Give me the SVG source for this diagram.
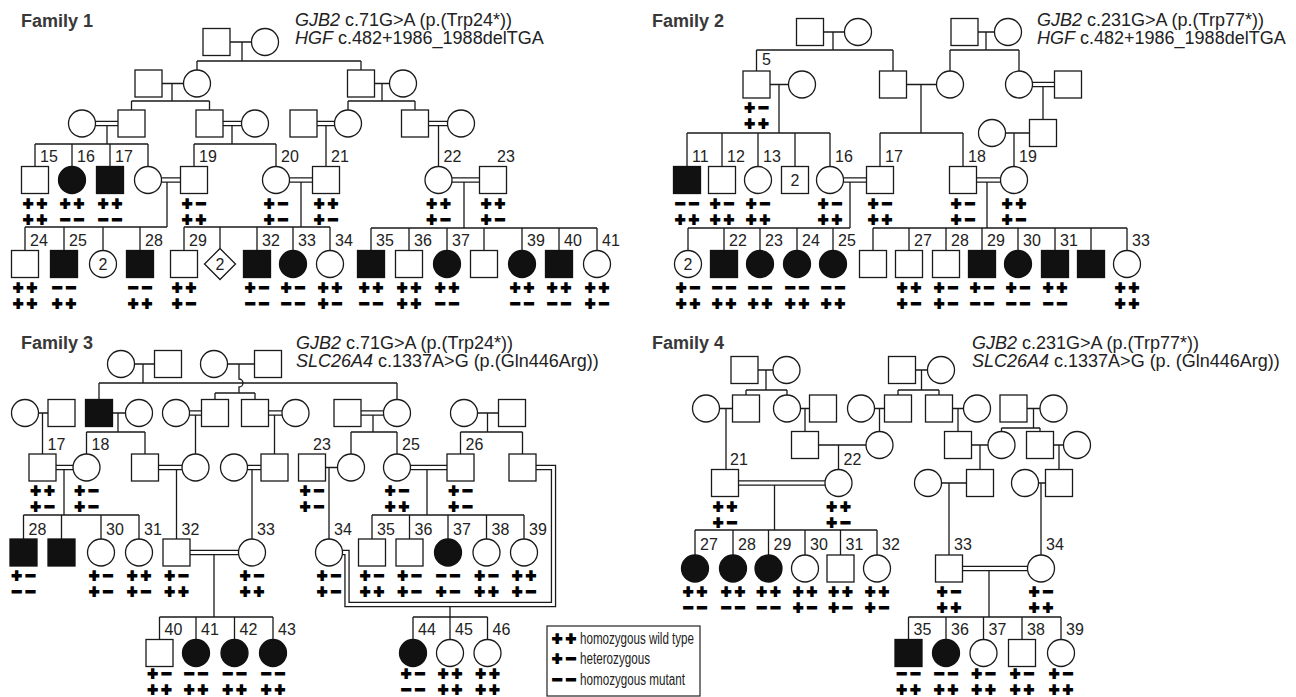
<svg xmlns="http://www.w3.org/2000/svg" width="1296" height="697" viewBox="0 0 1296 697">
<style>
.s{fill:#fff;stroke:#1a1a1a;stroke-width:1.3}
.f{fill:#111;stroke:#111;stroke-width:1.3}
.ln{fill:none;stroke:#1a1a1a;stroke-width:1.3}
.db{fill:none;stroke:#1a1a1a;stroke-width:5.4;stroke-linejoin:miter}
.dw{fill:none;stroke:#fff;stroke-width:2.8;stroke-linejoin:miter}
.lab{font-family:"Liberation Sans",Arial,sans-serif;font-size:16px;fill:#222}
.in{font-family:"Liberation Sans",Arial,sans-serif;font-size:16px;fill:#222;text-anchor:middle}
.gt{font-family:"DejaVu Sans",sans-serif;font-weight:bold;font-size:13.5px;letter-spacing:2.6px;fill:#000;stroke:#000;stroke-width:1.8;stroke-linejoin:miter;text-anchor:middle;transform:translateX(1.3px)}
.ti{font-family:"Liberation Sans",Arial,sans-serif;font-weight:bold;font-size:18px;fill:#383838}
.ge{font-family:"Liberation Sans",Arial,sans-serif;font-size:18px;fill:#222}
.it{font-style:italic}
.lg{font-family:"Liberation Sans",Arial,sans-serif;font-size:16px;fill:#222}
</style>
<rect width="1296" height="697" fill="#fff"/>

<g id="texts">
<text class="ti" x="21" y="27">Family 1</text>
<text class="ti" x="652" y="27">Family 2</text>
<text class="ti" x="21" y="349">Family 3</text>
<text class="ti" x="652" y="349">Family 4</text>
<text class="ge" x="295" y="26"><tspan class="it">GJB2</tspan> c.71G&gt;A (p.(Trp24*))</text>
<text class="ge" x="295" y="44"><tspan class="it">HGF</tspan> c.482+1986_1988delTGA</text>
<text class="ge" x="1037" y="26"><tspan class="it">GJB2</tspan> c.231G&gt;A (p.(Trp77*))</text>
<text class="ge" x="1037" y="44"><tspan class="it">HGF</tspan> c.482+1986_1988delTGA</text>
<text class="ge" x="296" y="349"><tspan class="it">GJB2</tspan> c.71G&gt;A (p.(Trp24*))</text>
<text class="ge" x="296" y="367"><tspan class="it">SLC26A4</tspan> c.1337A&gt;G (p.(Gln446Arg))</text>
<text class="ge" x="972" y="349"><tspan class="it">GJB2</tspan> c.231G&gt;A (p.(Trp77*))</text>
<text class="ge" x="972" y="367"><tspan class="it">SLC26A4</tspan> c.1337A&gt;G (p. (Gln446Arg))</text>
</g>

<g id="connectors">
<path class="ln" d="M230,42H251.5 M242,42V61 M197,61H361 M197,61V70 M361,61V70
M162,83.5H183.5 M172,83.5V101 M131.5,101H209.5 M131.5,101V110 M209.5,101V110
M374.5,83.5H389.5 M382,83.5V101 M348,101H415 M348,101V110 M415,101V110
M107,123.5V144 M35,144H148 M35,144V166.5 M72,144V166.5 M110,144V166.5 M148,144V166.5
M232,123.5V144 M194,144H276 M194,144V166.5 M276,144V166.5
M326,123.5V166.5 M438.5,123.5V166.5
M167,180V227 M25,227H167 M25,227V250.5 M64,227V250.5 M103,227V250.5 M140,227V250.5
M301,180V227 M184,227H330 M184,227V250.5 M220,227V248.5 M257,227V250.5 M293,227V250.5 M330,227V250.5
M464,180V228 M371,228H597 M371,228V250.5 M409,228V250.5 M447,228V250.5 M484,228V250.5 M522,228V250.5 M559,228V250.5 M597,228V250.5"/>
<path class="ln" d="M823.5,32H844.5 M833,32V50 M756.5,50H893 M756.5,50V71 M893,50V71
M978,32H994.5 M986,32V50 M950,50H1019 M950,50V71 M1019,50V71
M770,84.5H788.5 M779,84.5V133 M906.5,84.5H936.5 M921,84.5V133
M1043,84.5V119.5 M1005.5,133H1029.5 M1014,133V166.5
M687,133H830 M687,133V166.5 M722,133V166.5 M758,133V166.5 M795,133V166.5 M830,133V166.5
M880,133H963 M880,133V166.5 M963,133V166.5
M850,180V228 M987,180V228
M688,228H850 M688,228V250.5 M724,228V250.5 M760,228V250.5 M797,228V250.5 M833,228V250.5
M873,228H1127 M873,228V250.5 M909,228V250.5 M946,228V250.5 M982,228V250.5 M1018,228V250.5 M1055,228V250.5 M1091,228V250.5 M1127,228V250.5"/>
<path class="ln" d="M134.5,364H154.5 M143,364V383 M99,383H397 M99,383V399.5 M397,383V399.5
M227.5,364H254.5 M239,364V379 A4,4 0 0 1 239,387 V393 M215,393H255 M215,393V399.5 M255,393V399.5
M38.5,413H48 M42.5,413V454
M112.5,413H125.5 M118,413V432 M86.5,432H145 M86.5,432V454 M145,432V454
M195.5,413V454 M274.5,413V454
M373,413V432 M351,432H397 M351,432V454 M397,432V454
M477.5,413H498.5 M487.5,413V432 M460.5,432H522.5 M460.5,432V454 M522.5,432V454
M64,467.5V515 M23.5,515H139 M23.5,515V539 M61.5,515V539 M101,515V539 M139,515V539
M176.5,467.5V539 M252,467.5V539
M325.5,467.5H337.5 M329,467.5V539
M427,467.5V515 M372,515H524 M372,515V539 M409.5,515V539 M448,515V539 M486.5,515V539 M524,515V539
M214,552.5V617 M159.5,617H273 M159.5,617V639.5 M196,617V639.5 M234.5,617V639.5 M273,617V639.5
M450,604.5V617 M413,617H487.5 M413,617V639.5 M450,617V639.5 M487.5,617V639.5"/>
<path class="ln" d="M758,370H773 M766,370V390 M746,390H787 M746,390V395 M787,390V395
M915.5,370H927.5 M921.5,370V390 M898,390H939 M898,390V395 M939,390V395
M719.5,408.5H732.5 M726,408.5V469.5
M800.5,408.5H809.5 M805,408.5V431.5
M874.5,408.5H884.5 M879.5,408.5V431.5
M952.5,408.5H963.5 M958,408.5V431.5
M1027,408.5H1040 M1033.5,408.5V428 M1001.5,428H1040 M1001.5,428V431.5 M1040,428V431.5
M818.5,445H866 M838.5,445V469.5
M971.5,445H988 M980,445V469.5
M1053.5,445H1063.5 M1059,445V469.5
M774.5,483V530 M695,530H877 M695,530V555 M733,530V555 M768.5,530V555 M805,530V555 M840.5,530V555 M877,530V555
M941.5,483H966.5 M949,483V555
M1038.5,483H1045.5 M1041,483V555
M989,568.5V617 M908.5,617H1061 M908.5,617V639.5 M946,617V639.5 M983.5,617V639.5 M1022,617V639.5 M1061,617V639.5"/>
<path class="db" d="M95.5,123.5H118 M223,123.5H241.5 M317,123.5H334.5 M428.5,123.5H447.5 M161.5,180H180.5 M289.5,180H312.5 M452,180H479.5
M1032.5,84.5H1054.5 M843.5,180H866.5 M976.5,180H1000.5
M189.5,413H201.5 M268.5,413H282 M361,413H383.5 M56,467.5H73 M158.5,467.5H182 M247.5,467.5H261 M410.5,467.5H447 M190,552.5H238.5
M536,467.5H553.5V604.5H347V552.5H342.5
M738.5,483H825 M962.5,568.5H1027.5"/>
<path class="dw" d="M95.5,123.5H118 M223,123.5H241.5 M317,123.5H334.5 M428.5,123.5H447.5 M161.5,180H180.5 M289.5,180H312.5 M452,180H479.5
M1032.5,84.5H1054.5 M843.5,180H866.5 M976.5,180H1000.5
M189.5,413H201.5 M268.5,413H282 M361,413H383.5 M56,467.5H73 M158.5,467.5H182 M247.5,467.5H261 M410.5,467.5H447 M190,552.5H238.5
M536,467.5H553.5V604.5H347V552.5H342.5
M738.5,483H825 M962.5,568.5H1027.5"/>
</g>

<!-- FAMILY 1 -->
<g id="f1-I1"><rect class="s" x="203" y="28.5" width="27" height="27"/></g>
<g id="f1-I2"><circle class="s" cx="265" cy="42" r="13.5"/></g>
<g id="f1-II1"><rect class="s" x="135" y="70" width="27" height="27"/></g>
<g id="f1-II2"><circle class="s" cx="197" cy="83.5" r="13.5"/></g>
<g id="f1-II3"><rect class="s" x="347.5" y="70" width="27" height="27"/></g>
<g id="f1-II4"><circle class="s" cx="403" cy="83.5" r="13.5"/></g>
<g id="f1-III1"><circle class="s" cx="82" cy="123.5" r="13.5"/></g>
<g id="f1-III2"><rect class="s" x="118" y="110" width="27" height="27"/></g>
<g id="f1-III3"><rect class="s" x="196" y="110" width="27" height="27"/></g>
<g id="f1-III4"><circle class="s" cx="255" cy="123.5" r="13.5"/></g>
<g id="f1-III5"><rect class="s" x="290" y="110" width="27" height="27"/></g>
<g id="f1-III6"><circle class="s" cx="348" cy="123.5" r="13.5"/></g>
<g id="f1-III7"><rect class="s" x="401.5" y="110" width="27" height="27"/></g>
<g id="f1-III8"><circle class="s" cx="461" cy="123.5" r="13.5"/></g>

<g id="f1-15"><rect class="s" x="21.5" y="166.5" width="27" height="27"/><text class="lab" x="40" y="161.5">15</text><text class="gt" x="35" y="207.5">++</text><text class="gt" x="35" y="223.5">++</text></g>
<g id="f1-16"><circle class="f" cx="72" cy="180" r="13.5"/><text class="lab" x="77" y="161.5">16</text><text class="gt" x="72" y="207.5">++</text><text class="gt" x="72" y="223.5">−−</text></g>
<g id="f1-17"><rect class="f" x="96.5" y="166.5" width="27" height="27"/><text class="lab" x="115" y="161.5">17</text><text class="gt" x="110" y="207.5">++</text><text class="gt" x="110" y="223.5">−−</text></g>
<g id="f1-18"><circle class="s" cx="148" cy="180" r="13.5"/></g>
<g id="f1-19"><rect class="s" x="180.5" y="166.5" width="27" height="27"/><text class="lab" x="199" y="161.5">19</text><text class="gt" x="194" y="207.5">+−</text><text class="gt" x="194" y="223.5">++</text></g>
<g id="f1-20"><circle class="s" cx="276" cy="180" r="13.5"/><text class="lab" x="281" y="161.5">20</text><text class="gt" x="276" y="207.5">+−</text><text class="gt" x="276" y="223.5">+−</text></g>
<g id="f1-21"><rect class="s" x="312.5" y="166.5" width="27" height="27"/><text class="lab" x="331" y="161.5">21</text><text class="gt" x="326" y="207.5">++</text><text class="gt" x="326" y="223.5">+−</text></g>
<g id="f1-22"><circle class="s" cx="438.5" cy="180" r="13.5"/><text class="lab" x="443.5" y="161.5">22</text><text class="gt" x="438.5" y="207.5">++</text><text class="gt" x="438.5" y="223.5">+−</text></g>
<g id="f1-23"><rect class="s" x="479.5" y="166.5" width="27" height="27"/><text class="lab" x="497" y="161.5">23</text><text class="gt" x="493" y="207.5">++</text><text class="gt" x="493" y="223.5">+−</text></g>

<g id="f1-24"><rect class="s" x="11.5" y="250.5" width="27" height="27"/><text class="lab" x="30" y="246">24</text><text class="gt" x="25" y="291.5">++</text><text class="gt" x="25" y="307.5">++</text></g>
<g id="f1-25"><rect class="f" x="50.5" y="250.5" width="27" height="27"/><text class="lab" x="69" y="246">25</text><text class="gt" x="64" y="291.5">−−</text><text class="gt" x="64" y="307.5">++</text></g>
<g id="f1-x2"><circle class="s" cx="103" cy="264" r="13.5"/><text class="in" x="103" y="269.5">2</text></g>
<g id="f1-28"><rect class="f" x="126.5" y="250.5" width="27" height="27"/><text class="lab" x="145" y="246">28</text><text class="gt" x="140" y="291.5">−−</text><text class="gt" x="140" y="307.5">++</text></g>
<g id="f1-29"><rect class="s" x="170.5" y="250.5" width="27" height="27"/><text class="lab" x="189" y="246">29</text><text class="gt" x="184" y="291.5">++</text><text class="gt" x="184" y="307.5">+−</text></g>
<g id="f1-d2"><polygon class="s" points="220,248.5 235.5,264 220,279.5 204.5,264"/><text class="in" x="220" y="269.5">2</text></g>
<g id="f1-32"><rect class="f" x="243.5" y="250.5" width="27" height="27"/><text class="lab" x="262" y="246">32</text><text class="gt" x="257" y="291.5">+−</text><text class="gt" x="257" y="307.5">−−</text></g>
<g id="f1-33"><circle class="f" cx="293" cy="264" r="13.5"/><text class="lab" x="298" y="246">33</text><text class="gt" x="293" y="291.5">+−</text><text class="gt" x="293" y="307.5">−−</text></g>
<g id="f1-34"><circle class="s" cx="330" cy="264" r="13.5"/><text class="lab" x="335" y="246">34</text><text class="gt" x="330" y="291.5">++</text><text class="gt" x="330" y="307.5">+−</text></g>
<g id="f1-35"><rect class="f" x="357.5" y="250.5" width="27" height="27"/><text class="lab" x="376" y="246">35</text><text class="gt" x="371" y="291.5">++</text><text class="gt" x="371" y="307.5">−−</text></g>
<g id="f1-36"><rect class="s" x="395.5" y="250.5" width="27" height="27"/><text class="lab" x="414" y="246">36</text><text class="gt" x="409" y="291.5">++</text><text class="gt" x="409" y="307.5">++</text></g>
<g id="f1-37"><circle class="f" cx="447" cy="264" r="13.5"/><text class="lab" x="452" y="246">37</text><text class="gt" x="447" y="291.5">++</text><text class="gt" x="447" y="307.5">−−</text></g>
<g id="f1-38"><rect class="s" x="470.5" y="250.5" width="27" height="27"/></g>
<g id="f1-39"><circle class="f" cx="522" cy="264" r="13.5"/><text class="lab" x="527" y="246">39</text><text class="gt" x="522" y="291.5">++</text><text class="gt" x="522" y="307.5">−−</text></g>
<g id="f1-40"><rect class="f" x="545.5" y="250.5" width="27" height="27"/><text class="lab" x="564" y="246">40</text><text class="gt" x="559" y="291.5">++</text><text class="gt" x="559" y="307.5">−−</text></g>
<g id="f1-41"><circle class="s" cx="597" cy="264" r="13.5"/><text class="lab" x="602" y="246">41</text><text class="gt" x="597" y="291.5">++</text><text class="gt" x="597" y="307.5">+−</text></g>

<!-- FAMILY 2 -->
<g id="f2-I1"><rect class="s" x="796.5" y="18.5" width="27" height="27"/></g>
<g id="f2-I2"><circle class="s" cx="858" cy="32" r="13.5"/></g>
<g id="f2-I3"><rect class="s" x="951" y="18.5" width="27" height="27"/></g>
<g id="f2-I4"><circle class="s" cx="1008" cy="32" r="13.5"/></g>
<g id="f2-5"><rect class="s" x="743" y="71" width="27" height="27"/><text class="lab" x="762" y="65">5</text><text class="gt" x="756.5" y="112">+−</text><text class="gt" x="756.5" y="128">++</text></g>
<g id="f2-II2"><circle class="s" cx="802" cy="84.5" r="13.5"/></g>
<g id="f2-II3"><rect class="s" x="879.5" y="71" width="27" height="27"/></g>
<g id="f2-II4"><circle class="s" cx="950" cy="84.5" r="13.5"/></g>
<g id="f2-II5"><circle class="s" cx="1019" cy="84.5" r="13.5"/></g>
<g id="f2-II6"><rect class="s" x="1054.5" y="71" width="27" height="27"/></g>
<g id="f2-III1"><circle class="s" cx="992" cy="133" r="13.5"/></g>
<g id="f2-III2"><rect class="s" x="1029.5" y="119.5" width="27" height="27"/></g>

<g id="f2-11"><rect class="f" x="673.5" y="166.5" width="27" height="27"/><text class="lab" x="692" y="161.5">11</text><text class="gt" x="687" y="207.5">−−</text><text class="gt" x="687" y="223.5">++</text></g>
<g id="f2-12"><rect class="s" x="708.5" y="166.5" width="27" height="27"/><text class="lab" x="727" y="161.5">12</text><text class="gt" x="722" y="207.5">+−</text><text class="gt" x="722" y="223.5">++</text></g>
<g id="f2-13"><circle class="s" cx="758" cy="180" r="13.5"/><text class="lab" x="763" y="161.5">13</text><text class="gt" x="758" y="207.5">+−</text><text class="gt" x="758" y="223.5">++</text></g>
<g id="f2-s2"><rect class="s" x="781.5" y="166.5" width="27" height="27"/><text class="in" x="795" y="185.5">2</text></g>
<g id="f2-16"><circle class="s" cx="830" cy="180" r="13.5"/><text class="lab" x="835" y="161.5">16</text><text class="gt" x="830" y="207.5">+−</text><text class="gt" x="830" y="223.5">++</text></g>
<g id="f2-17"><rect class="s" x="866.5" y="166.5" width="27" height="27"/><text class="lab" x="885" y="161.5">17</text><text class="gt" x="880" y="207.5">+−</text><text class="gt" x="880" y="223.5">++</text></g>
<g id="f2-18"><rect class="s" x="949.5" y="166.5" width="27" height="27"/><text class="lab" x="968" y="161.5">18</text><text class="gt" x="963" y="207.5">+−</text><text class="gt" x="963" y="223.5">+−</text></g>
<g id="f2-19"><circle class="s" cx="1014" cy="180" r="13.5"/><text class="lab" x="1019" y="161.5">19</text><text class="gt" x="1014" y="207.5">++</text><text class="gt" x="1014" y="223.5">+−</text></g>

<g id="f2-c2"><circle class="s" cx="688" cy="264" r="13.5"/><text class="in" x="688" y="269.5">2</text><text class="gt" x="688" y="291.5">+−</text><text class="gt" x="688" y="307.5">++</text></g>
<g id="f2-22"><rect class="f" x="710.5" y="250.5" width="27" height="27"/><text class="lab" x="729" y="246">22</text><text class="gt" x="724" y="291.5">−−</text><text class="gt" x="724" y="307.5">++</text></g>
<g id="f2-23"><circle class="f" cx="760" cy="264" r="13.5"/><text class="lab" x="765" y="246">23</text><text class="gt" x="760" y="291.5">−−</text><text class="gt" x="760" y="307.5">++</text></g>
<g id="f2-24"><circle class="f" cx="797" cy="264" r="13.5"/><text class="lab" x="802" y="246">24</text><text class="gt" x="797" y="291.5">−−</text><text class="gt" x="797" y="307.5">++</text></g>
<g id="f2-25"><circle class="f" cx="833" cy="264" r="13.5"/><text class="lab" x="838" y="246">25</text><text class="gt" x="833" y="291.5">−−</text><text class="gt" x="833" y="307.5">++</text></g>
<g id="f2-26"><rect class="s" x="859.5" y="250.5" width="27" height="27"/></g>
<g id="f2-27"><rect class="s" x="895.5" y="250.5" width="27" height="27"/><text class="lab" x="914" y="246">27</text><text class="gt" x="909" y="291.5">++</text><text class="gt" x="909" y="307.5">+−</text></g>
<g id="f2-28"><rect class="s" x="932.5" y="250.5" width="27" height="27"/><text class="lab" x="951" y="246">28</text><text class="gt" x="946" y="291.5">+−</text><text class="gt" x="946" y="307.5">+−</text></g>
<g id="f2-29"><rect class="f" x="968.5" y="250.5" width="27" height="27"/><text class="lab" x="987" y="246">29</text><text class="gt" x="982" y="291.5">+−</text><text class="gt" x="982" y="307.5">−−</text></g>
<g id="f2-30"><circle class="f" cx="1018" cy="264" r="13.5"/><text class="lab" x="1023" y="246">30</text><text class="gt" x="1018" y="291.5">+−</text><text class="gt" x="1018" y="307.5">−−</text></g>
<g id="f2-31"><rect class="f" x="1041.5" y="250.5" width="27" height="27"/><text class="lab" x="1060" y="246">31</text><text class="gt" x="1055" y="291.5">++</text><text class="gt" x="1055" y="307.5">−−</text></g>
<g id="f2-32"><rect class="f" x="1077.5" y="250.5" width="27" height="27"/></g>
<g id="f2-33"><circle class="s" cx="1127" cy="264" r="13.5"/><text class="lab" x="1132" y="246">33</text><text class="gt" x="1127" y="291.5">++</text><text class="gt" x="1127" y="307.5">++</text></g>

<!-- FAMILY 3 -->
<g id="f3-I1"><circle class="s" cx="121" cy="364" r="13.5"/></g>
<g id="f3-I2"><rect class="s" x="154.5" y="350.5" width="27" height="27"/></g>
<g id="f3-I3"><circle class="s" cx="214" cy="364" r="13.5"/></g>
<g id="f3-I4"><rect class="s" x="254.5" y="350.5" width="27" height="27"/></g>
<g id="f3-II1"><circle class="s" cx="25" cy="413" r="13.5"/></g>
<g id="f3-II2"><rect class="s" x="48" y="399.5" width="27" height="27"/></g>
<g id="f3-II3"><rect class="f" x="85.5" y="399.5" width="27" height="27"/></g>
<g id="f3-II4"><circle class="s" cx="139" cy="413" r="13.5"/></g>
<g id="f3-II5"><circle class="s" cx="176" cy="413" r="13.5"/></g>
<g id="f3-II6"><rect class="s" x="201.5" y="399.5" width="27" height="27"/></g>
<g id="f3-II7"><rect class="s" x="241.5" y="399.5" width="27" height="27"/></g>
<g id="f3-II8"><circle class="s" cx="295.5" cy="413" r="13.5"/></g>
<g id="f3-II9"><rect class="s" x="334" y="399.5" width="27" height="27"/></g>
<g id="f3-II10"><circle class="s" cx="397" cy="413" r="13.5"/></g>
<g id="f3-II11"><circle class="s" cx="464" cy="413" r="13.5"/></g>
<g id="f3-II12"><rect class="s" x="498.5" y="399.5" width="27" height="27"/></g>

<g id="f3-17"><rect class="s" x="29" y="454" width="27" height="27"/><text class="lab" x="47.5" y="449.5">17</text><text class="gt" x="42.5" y="495">++</text><text class="gt" x="42.5" y="511">+−</text></g>
<g id="f3-18"><circle class="s" cx="86.5" cy="467.5" r="13.5"/><text class="lab" x="91.5" y="449.5">18</text><text class="gt" x="86.5" y="495">+−</text><text class="gt" x="86.5" y="511">+−</text></g>
<g id="f3-III3"><rect class="s" x="131.5" y="454" width="27" height="27"/></g>
<g id="f3-III4"><circle class="s" cx="195.5" cy="467.5" r="13.5"/></g>
<g id="f3-III5"><circle class="s" cx="234" cy="467.5" r="13.5"/></g>
<g id="f3-III6"><rect class="s" x="261" y="454" width="27" height="27"/></g>
<g id="f3-23"><rect class="s" x="298.5" y="454" width="27" height="27"/><text class="lab" x="313" y="449.5">23</text><text class="gt" x="312" y="495">+−</text><text class="gt" x="312" y="511">+−</text></g>
<g id="f3-III8"><circle class="s" cx="351" cy="467.5" r="13.5"/></g>
<g id="f3-25"><circle class="s" cx="397" cy="467.5" r="13.5"/><text class="lab" x="402" y="449.5">25</text><text class="gt" x="397" y="495">+−</text><text class="gt" x="397" y="511">++</text></g>
<g id="f3-26"><rect class="s" x="447" y="454" width="27" height="27"/><text class="lab" x="465.5" y="449.5">26</text><text class="gt" x="460.5" y="495">+−</text><text class="gt" x="460.5" y="511">+−</text></g>
<g id="f3-III11"><rect class="s" x="509" y="454" width="27" height="27"/></g>

<g id="f3-28"><rect class="f" x="10" y="539" width="27" height="27"/><text class="lab" x="28.5" y="534.5">28</text><text class="gt" x="23.5" y="580">+−</text><text class="gt" x="23.5" y="596">−−</text></g>
<g id="f3-29"><rect class="f" x="48" y="539" width="27" height="27"/></g>
<g id="f3-30"><circle class="s" cx="101" cy="552.5" r="13.5"/><text class="lab" x="106" y="534.5">30</text><text class="gt" x="101" y="580">+−</text><text class="gt" x="101" y="596">+−</text></g>
<g id="f3-31"><circle class="s" cx="139" cy="552.5" r="13.5"/><text class="lab" x="144" y="534.5">31</text><text class="gt" x="139" y="580">++</text><text class="gt" x="139" y="596">+−</text></g>
<g id="f3-32"><rect class="s" x="163" y="539" width="27" height="27"/><text class="lab" x="181.5" y="534.5">32</text><text class="gt" x="176.5" y="580">+−</text><text class="gt" x="176.5" y="596">++</text></g>
<g id="f3-33"><circle class="s" cx="252" cy="552.5" r="13.5"/><text class="lab" x="257" y="534.5">33</text><text class="gt" x="252" y="580">+−</text><text class="gt" x="252" y="596">++</text></g>
<g id="f3-34"><circle class="s" cx="329" cy="552.5" r="13.5"/><text class="lab" x="334" y="534.5">34</text><text class="gt" x="329" y="580">+−</text><text class="gt" x="329" y="596">+−</text></g>
<g id="f3-35"><rect class="s" x="358.5" y="539" width="27" height="27"/><text class="lab" x="377" y="534.5">35</text><text class="gt" x="372" y="580">+−</text><text class="gt" x="372" y="596">++</text></g>
<g id="f3-36"><rect class="s" x="396" y="539" width="27" height="27"/><text class="lab" x="414.5" y="534.5">36</text><text class="gt" x="409.5" y="580">+−</text><text class="gt" x="409.5" y="596">+−</text></g>
<g id="f3-37"><circle class="f" cx="448" cy="552.5" r="13.5"/><text class="lab" x="453" y="534.5">37</text><text class="gt" x="448" y="580">−−</text><text class="gt" x="448" y="596">+−</text></g>
<g id="f3-38"><circle class="s" cx="486.5" cy="552.5" r="13.5"/><text class="lab" x="491.5" y="534.5">38</text><text class="gt" x="486.5" y="580">+−</text><text class="gt" x="486.5" y="596">++</text></g>
<g id="f3-39"><circle class="s" cx="524" cy="552.5" r="13.5"/><text class="lab" x="529" y="534.5">39</text><text class="gt" x="524" y="580">++</text><text class="gt" x="524" y="596">+−</text></g>

<g id="f3-40"><rect class="s" x="146" y="639.5" width="27" height="27"/><text class="lab" x="164.5" y="635">40</text><text class="gt" x="159.5" y="677.5">+−</text><text class="gt" x="159.5" y="693.5">++</text></g>
<g id="f3-41"><circle class="f" cx="196" cy="653" r="13.5"/><text class="lab" x="201" y="635">41</text><text class="gt" x="196" y="677.5">−−</text><text class="gt" x="196" y="693.5">++</text></g>
<g id="f3-42"><circle class="f" cx="234.5" cy="653" r="13.5"/><text class="lab" x="239.5" y="635">42</text><text class="gt" x="234.5" y="677.5">−−</text><text class="gt" x="234.5" y="693.5">++</text></g>
<g id="f3-43"><circle class="f" cx="273" cy="653" r="13.5"/><text class="lab" x="278" y="635">43</text><text class="gt" x="273" y="677.5">−−</text><text class="gt" x="273" y="693.5">++</text></g>
<g id="f3-44"><circle class="f" cx="413" cy="653" r="13.5"/><text class="lab" x="418" y="635">44</text><text class="gt" x="413" y="677.5">+−</text><text class="gt" x="413" y="693.5">−−</text></g>
<g id="f3-45"><circle class="s" cx="450" cy="653" r="13.5"/><text class="lab" x="455" y="635">45</text><text class="gt" x="450" y="677.5">++</text><text class="gt" x="450" y="693.5">++</text></g>
<g id="f3-46"><circle class="s" cx="487.5" cy="653" r="13.5"/><text class="lab" x="492.5" y="635">46</text><text class="gt" x="487.5" y="677.5">++</text><text class="gt" x="487.5" y="693.5">++</text></g>

<!-- FAMILY 4 -->
<g id="f4-I1"><rect class="s" x="731" y="356.5" width="27" height="27"/></g>
<g id="f4-I2"><circle class="s" cx="786.5" cy="370" r="13.5"/></g>
<g id="f4-I3"><rect class="s" x="888.5" y="356.5" width="27" height="27"/></g>
<g id="f4-I4"><circle class="s" cx="941" cy="370" r="13.5"/></g>
<g id="f4-II1"><circle class="s" cx="706" cy="408.5" r="13.5"/></g>
<g id="f4-II2"><rect class="s" x="732.5" y="395" width="27" height="27"/></g>
<g id="f4-II3"><circle class="s" cx="787" cy="408.5" r="13.5"/></g>
<g id="f4-II4"><rect class="s" x="809.5" y="395" width="27" height="27"/></g>
<g id="f4-II5"><circle class="s" cx="861" cy="408.5" r="13.5"/></g>
<g id="f4-II6"><rect class="s" x="884.5" y="395" width="27" height="27"/></g>
<g id="f4-II7"><rect class="s" x="925.5" y="395" width="27" height="27"/></g>
<g id="f4-II8"><circle class="s" cx="977" cy="408.5" r="13.5"/></g>
<g id="f4-II9"><rect class="s" x="1000" y="395" width="27" height="27"/></g>
<g id="f4-II10"><circle class="s" cx="1053.5" cy="408.5" r="13.5"/></g>
<g id="f4-III1"><rect class="s" x="791.5" y="431.5" width="27" height="27"/></g>
<g id="f4-III2"><circle class="s" cx="879.5" cy="445" r="13.5"/></g>
<g id="f4-III3"><rect class="s" x="944.5" y="431.5" width="27" height="27"/></g>
<g id="f4-III4"><circle class="s" cx="1001.5" cy="445" r="13.5"/></g>
<g id="f4-III5"><rect class="s" x="1026.5" y="431.5" width="27" height="27"/></g>
<g id="f4-III6"><circle class="s" cx="1077" cy="445" r="13.5"/></g>

<g id="f4-21"><rect class="s" x="711.5" y="469.5" width="27" height="27"/><text class="lab" x="730" y="465">21</text><text class="gt" x="725" y="510.5">++</text><text class="gt" x="725" y="526.5">+−</text></g>
<g id="f4-22"><circle class="s" cx="838.5" cy="483" r="13.5"/><text class="lab" x="843.5" y="465">22</text><text class="gt" x="838.5" y="510.5">++</text><text class="gt" x="838.5" y="526.5">+−</text></g>
<g id="f4-IV3"><circle class="s" cx="928" cy="483" r="13.5"/></g>
<g id="f4-IV4"><rect class="s" x="966.5" y="469.5" width="27" height="27"/></g>
<g id="f4-IV5"><circle class="s" cx="1025" cy="483" r="13.5"/></g>
<g id="f4-IV6"><rect class="s" x="1045.5" y="469.5" width="27" height="27"/></g>

<g id="f4-27"><circle class="f" cx="695" cy="568.5" r="13.5"/><text class="lab" x="700" y="550">27</text><text class="gt" x="695" y="596">++</text><text class="gt" x="695" y="612">−−</text></g>
<g id="f4-28"><circle class="f" cx="733" cy="568.5" r="13.5"/><text class="lab" x="738" y="550">28</text><text class="gt" x="733" y="596">++</text><text class="gt" x="733" y="612">−−</text></g>
<g id="f4-29"><circle class="f" cx="768.5" cy="568.5" r="13.5"/><text class="lab" x="773.5" y="550">29</text><text class="gt" x="768.5" y="596">++</text><text class="gt" x="768.5" y="612">−−</text></g>
<g id="f4-30"><circle class="s" cx="805" cy="568.5" r="13.5"/><text class="lab" x="810" y="550">30</text><text class="gt" x="805" y="596">++</text><text class="gt" x="805" y="612">+−</text></g>
<g id="f4-31"><rect class="s" x="827" y="555" width="27" height="27"/><text class="lab" x="845.5" y="550">31</text><text class="gt" x="840.5" y="596">++</text><text class="gt" x="840.5" y="612">+−</text></g>
<g id="f4-32"><circle class="s" cx="877" cy="568.5" r="13.5"/><text class="lab" x="882" y="550">32</text><text class="gt" x="877" y="596">++</text><text class="gt" x="877" y="612">+−</text></g>
<g id="f4-33"><rect class="s" x="935.5" y="555" width="27" height="27"/><text class="lab" x="954" y="550">33</text><text class="gt" x="949" y="596">+−</text><text class="gt" x="949" y="612">++</text></g>
<g id="f4-34"><circle class="s" cx="1041" cy="568.5" r="13.5"/><text class="lab" x="1046" y="550">34</text><text class="gt" x="1041" y="596">+−</text><text class="gt" x="1041" y="612">++</text></g>

<g id="f4-35"><rect class="f" x="895" y="639.5" width="27" height="27"/><text class="lab" x="913.5" y="635">35</text><text class="gt" x="908.5" y="677.5">−−</text><text class="gt" x="908.5" y="693.5">++</text></g>
<g id="f4-36"><circle class="f" cx="946" cy="653" r="13.5"/><text class="lab" x="951" y="635">36</text><text class="gt" x="946" y="677.5">−−</text><text class="gt" x="946" y="693.5">++</text></g>
<g id="f4-37"><circle class="s" cx="983.5" cy="653" r="13.5"/><text class="lab" x="988.5" y="635">37</text><text class="gt" x="983.5" y="677.5">+−</text><text class="gt" x="983.5" y="693.5">++</text></g>
<g id="f4-38"><rect class="s" x="1008.5" y="639.5" width="27" height="27"/><text class="lab" x="1027" y="635">38</text><text class="gt" x="1022" y="677.5">+−</text><text class="gt" x="1022" y="693.5">++</text></g>
<g id="f4-39"><circle class="s" cx="1061" cy="653" r="13.5"/><text class="lab" x="1066" y="635">39</text><text class="gt" x="1061" y="677.5">+−</text><text class="gt" x="1061" y="693.5">++</text></g>

<!-- LEGEND -->
<g id="legend">
<rect x="547" y="626" width="153" height="70" fill="#fff" stroke="#333" stroke-width="1.3"/>
<text class="gt" x="564" y="643">++</text><text class="lg" x="580" y="644" textLength="114" lengthAdjust="spacingAndGlyphs">homozygous wild type</text>
<text class="gt" x="564" y="663">+−</text><text class="lg" x="580" y="664" textLength="70" lengthAdjust="spacingAndGlyphs">heterozygous</text>
<text class="gt" x="564" y="684">−−</text><text class="lg" x="580" y="685" textLength="105" lengthAdjust="spacingAndGlyphs">homozygous mutant</text>
</g>
</svg>
